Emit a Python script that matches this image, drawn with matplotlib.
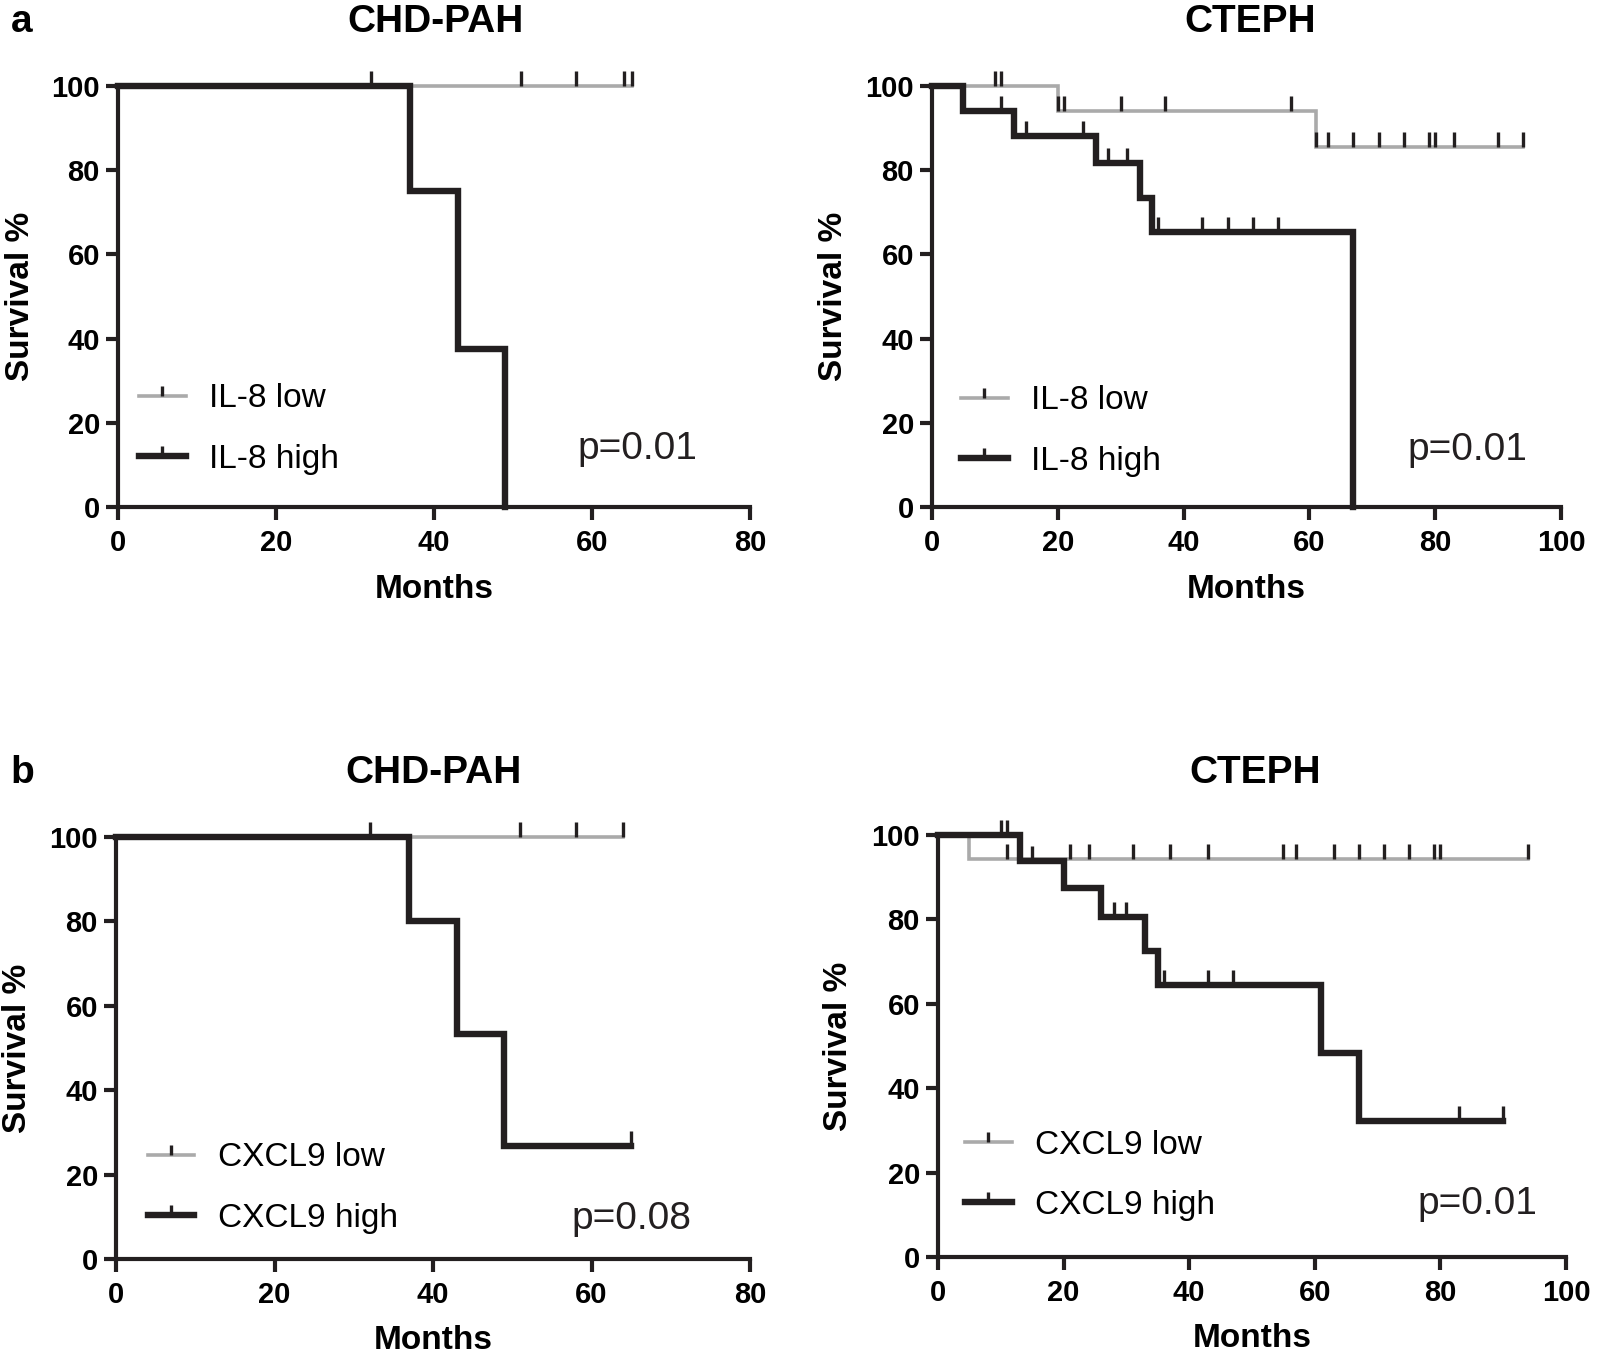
import numpy as np
import matplotlib
matplotlib.use('Agg')
import matplotlib.pyplot as plt
from matplotlib.lines import Line2D

plt.rcParams['font.family'] = 'Liberation Sans'

GRAY = '#aaaaaa'
BLACK = '#231f20'
TICK = [(0, 0), (0, 1)]

# a / CHD-PAH, IL-8
a1_low_t = [0, 65]
a1_low_s = [100, 100]
a1_low_c = [32, 51, 58, 64, 65]
a1_high_t = [0, 37, 43, 49]
a1_high_s = [100, 75, 37.5, 0]
a1_high_c = []

# a / CTEPH, IL-8
a2_low_t = [0, 20, 61, 94]
a2_low_s = [100, 94.1, 85.6, 85.6]
a2_low_c = [10, 11, 20, 21, 30, 37, 57, 61, 63, 67, 71, 75, 79, 80, 83, 90, 94]
a2_high_t = [0, 5, 13, 26, 33, 35, 67]
a2_high_s = [100, 94.1, 88.2, 81.6, 73.5, 65.3, 0]
a2_high_c = [11, 15, 24, 28, 31, 36, 43, 47, 51, 55]

# b / CHD-PAH, CXCL9
b1_low_t = [0, 64]
b1_low_s = [100, 100]
b1_low_c = [32, 51, 58, 64]
b1_high_t = [0, 37, 43, 49, 65]
b1_high_s = [100, 80, 53.3, 26.7, 26.7]
b1_high_c = [65]

# b / CTEPH, CXCL9
b2_low_t = [0, 5, 94]
b2_low_s = [100, 94.4, 94.4]
b2_low_c = [11, 21, 24, 31, 37, 43, 55, 57, 63, 67, 71, 75, 79, 80, 94]
b2_high_t = [0, 13, 20, 26, 33, 35, 61, 67, 90]
b2_high_s = [100, 93.8, 87.5, 80.6, 72.4, 64.4, 48.3, 32.2, 32.2]
b2_high_c = [10, 11, 15, 28, 30, 36, 43, 47, 83, 90]


def level_at(t, s, c):
    t = np.asarray(t)
    s = np.asarray(s)
    idx = np.searchsorted(t, c, side='right') - 1
    return s[idx]


def km(ax, t, s, c, color, lw):
    ax.step(t, s, where='post', color=color, lw=lw, clip_on=False,
            solid_joinstyle='miter')
    if len(c):
        # censor marks are black on both curves
        ax.plot(c, level_at(t, s, c), ls='none', marker=TICK, ms=22,
                mew=2.4, color=BLACK, clip_on=False)


def panel(ax, low, high, xmax, labels, leg_xy, ptext, pxy, ylab_x):
    km(ax, *low, GRAY, 2.6)
    km(ax, *high, BLACK, 4.6)
    ax.set_xlim(0, xmax)
    ax.set_ylim(0, 100)
    ax.set_xticks(np.arange(0, xmax + 1, 20))
    ax.set_yticks(np.arange(0, 101, 20))
    for sp in ['top', 'right']:
        ax.spines[sp].set_visible(False)
    for sp in ['left', 'bottom']:
        ax.spines[sp].set_linewidth(3)
        ax.spines[sp].set_color(BLACK)
    ax.tick_params(width=3, length=9, labelsize=21, pad=4, color=BLACK)
    ax.tick_params(axis='x', pad=7)
    plt.setp(ax.get_xticklabels() + ax.get_yticklabels(), fontweight='bold')
    ax.set_xlabel('Months', fontsize=24, fontweight='bold', va='center')
    ax.xaxis.set_label_coords(0.5, -0.196)
    ax.set_ylabel('Survival %', fontsize=24, fontweight='bold',
                  ha='center', va='center')
    ax.yaxis.set_label_coords(ylab_x, 0.5)

    handles = [Line2D([], [], color=GRAY, lw=2.6, marker=TICK, ms=15, mew=2.4,
                      mec=BLACK),
               Line2D([], [], color=BLACK, lw=4.6, marker=TICK, ms=15, mew=2.4)]
    ax.legend(handles, labels, loc='center left', bbox_to_anchor=leg_xy,
              frameon=False, fontsize=24, handlelength=1.4, handletextpad=0.7,
              labelspacing=0.88, borderpad=0, borderaxespad=0, numpoints=1)
    ax.text(pxy[0], pxy[1], ptext, transform=ax.transAxes, fontsize=28,
            ha='right', va='center', color=BLACK)


fig = plt.figure(figsize=(16, 13.54), dpi=100)

ax1 = fig.add_axes([0.07375, 0.6256, 0.395, 0.3109])
ax2 = fig.add_axes([0.5825, 0.6256, 0.3931, 0.3109])
ax3 = fig.add_axes([0.0725, 0.0702, 0.39625, 0.3117])
ax4 = fig.add_axes([0.58625, 0.0717, 0.3925, 0.3117])

panel(ax1, (a1_low_t, a1_low_s, a1_low_c), (a1_high_t, a1_high_s, a1_high_c),
      80, ['IL-8 low', 'IL-8 high'], (0.033, 0.185), 'p=0.01', (0.916, 0.138), -0.155)
panel(ax2, (a2_low_t, a2_low_s, a2_low_c), (a2_high_t, a2_high_s, a2_high_c),
      100, ['IL-8 low', 'IL-8 high'], (0.046, 0.18), 'p=0.01', (0.947, 0.135), -0.156)
panel(ax3, (b1_low_t, b1_low_s, b1_low_c), (b1_high_t, b1_high_s, b1_high_c),
      80, ['CXCL9 low', 'CXCL9 high'], (0.05, 0.168), 'p=0.08', (0.908, 0.095), -0.155)
panel(ax4, (b2_low_t, b2_low_s, b2_low_c), (b2_high_t, b2_high_s, b2_high_c),
      100, ['CXCL9 low', 'CXCL9 high'], (0.043, 0.193), 'p=0.01', (0.955, 0.126), -0.158)
ax3.xaxis.set_label_coords(0.5, -0.193)
ax4.xaxis.set_label_coords(0.5, -0.193)

H = 1354.0
fig.text(22 / 1600, 1 - 22 / H, 'a', fontsize=28, fontweight='bold', ha='center', va='center')
fig.text(22 / 1600, 1 - 773 / H, 'b', fontsize=28, fontweight='bold', ha='center', va='center')
fig.text(436 / 1600, 1 - 22 / H, 'CHD-PAH', fontsize=28, fontweight='bold', ha='center', va='center')
fig.text(1250 / 1600, 1 - 22 / H, 'CTEPH', fontsize=28, fontweight='bold', ha='center', va='center')
fig.text(434 / 1600, 1 - 773 / H, 'CHD-PAH', fontsize=28, fontweight='bold', ha='center', va='center')
fig.text(1255 / 1600, 1 - 773 / H, 'CTEPH', fontsize=28, fontweight='bold', ha='center', va='center')

fig.savefig('out.png', dpi=100)
